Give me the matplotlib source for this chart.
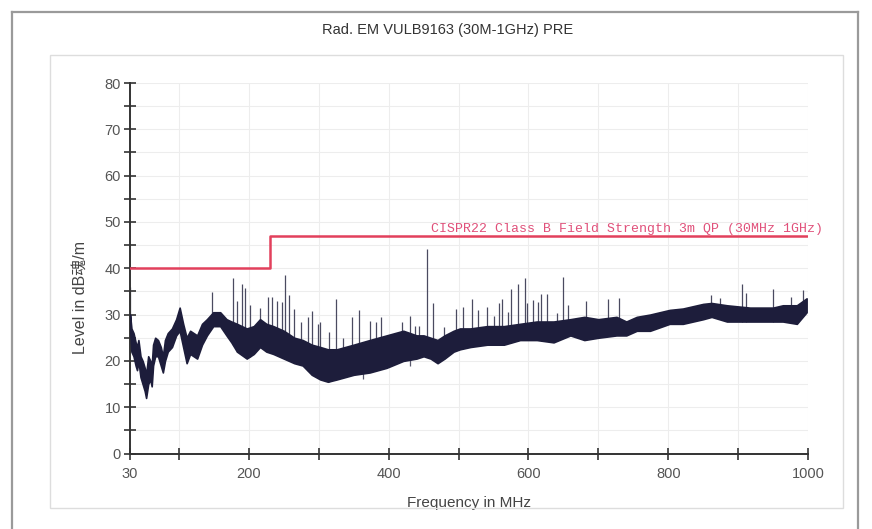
import matplotlib
matplotlib.use("Agg")
import matplotlib.pyplot as plt
import numpy as np
from matplotlib.lines import Line2D
from matplotlib.ticker import FixedLocator, MultipleLocator

plt.rcParams['font.family'] = ['Liberation Sans', 'Noto Sans CJK SC', 'DejaVu Sans']

# noise floor envelope (MHz, dB lower, dB upper)
band_freq = [30, 32, 35, 38, 40, 42, 45, 48, 51, 53, 56, 59, 61, 63, 66, 70, 74, 77,
             80, 84, 90, 96, 101, 106, 111, 116, 121, 126, 133, 140, 149, 159, 168,
             175, 183, 197, 207, 216, 225, 235, 250, 265, 277, 290, 302, 313, 326,
             338, 350, 373, 397, 421, 440, 450, 460, 470, 480, 493, 502, 517, 541,
             565, 588, 612, 636, 660, 680, 700, 726, 740, 755, 774, 802, 821, 850,
             862, 884, 917, 950, 964, 984, 998]
band_low = [27, 22, 21, 19, 18, 20, 16.5, 15, 13.5, 12, 15, 16, 14.5, 19, 21, 21, 19,
            17.5, 20, 22, 23, 25.5, 26.5, 23, 19.5, 21.5, 21, 20.5, 23.5, 25.5, 27.5,
            27.5, 25.5, 24, 22, 20.5, 21.5, 23, 22, 21.5, 20.5, 19.5, 19, 17, 16, 15.5,
            16, 16.5, 17, 17.5, 18.5, 20, 20.5, 21, 20.5, 19.5, 20.5, 22, 22.5, 23,
            23.5, 23.5, 24.5, 24.5, 24, 25.5, 24.5, 25, 25.5, 25.5, 26.5, 26.5, 28, 28,
            29, 29.5, 28.5, 28.5, 28.5, 28.5, 28, 30.5]
band_high = [30, 27, 26, 24, 23, 24.5, 21, 20, 18.5, 17, 21, 20, 19, 23.5, 25, 24.5,
             23, 21, 24.5, 26, 27, 29, 31.5, 28, 25, 26.5, 26, 25.5, 28, 29, 30.5, 30.5,
             29, 28.5, 28, 27, 27.5, 29, 28, 27.5, 26.5, 25, 24.5, 23.5, 23, 22.5, 22.5,
             23, 23.5, 24.5, 25.5, 26.5, 25.5, 25.5, 25, 24.5, 25.5, 26.5, 27, 27, 27.5,
             27.5, 28, 28.5, 28.5, 29, 29.5, 29, 29.5, 28.5, 29.5, 30, 31, 31.3, 32.3,
             32.5, 32, 31.5, 31.5, 32, 32, 33.5]

# narrow emissions above the floor (MHz, peak dB)
spike_freq = [30.5, 147, 177, 183, 190, 194.5, 201, 216, 227, 233, 240, 247, 252, 258,
              265, 274, 285, 291, 299, 302, 314, 324, 335, 347, 358, 373, 382, 389,
              419, 430, 438, 444, 455, 463, 479, 496, 506, 520, 528, 541, 551, 558,
              562, 571, 575, 585, 595, 598, 607, 614, 618, 627, 641, 650, 657, 683,
              714, 729, 861, 874, 905, 911, 950, 976, 993]
spike_peak = [36, 34.8, 38, 33, 36.5, 35.8, 32, 31.4, 33.8, 33.8, 33, 32.8, 38.6, 34.3,
              31.3, 28.4, 29.5, 30.8, 28, 28.3, 26.3, 33.3, 25, 29.5, 31, 28.6, 28.5,
              29.4, 28.4, 29.6, 27.5, 27.5, 44.2, 32.4, 27.3, 31.3, 31.6, 33.4, 30.9,
              31.6, 29.7, 32.4, 33.4, 30.6, 35.6, 36.7, 37.8, 32.4, 33.1, 32.8, 34.5,
              34.5, 30.3, 38.1, 32, 33, 33.4, 33.5, 34.2, 33.5, 36.5, 34.7, 35.5, 33.8,
              35.2]
# narrow drops below the floor (MHz, lowest dB)
dip_freq = [364, 430]
dip_level = [16.0, 19]

# limit line
limit_freq = [30, 230, 1000]
limit_level = [40, 47, 47]
limit_label = "CISPR22 Class B Field Strength 3m QP (30MHz 1GHz)"

xticks = [30, 100, 200, 300, 400, 500, 600, 700, 800, 900, 1000]
xticklabels = ["30", "", "200", "", "400", "", "600", "", "800", "", "1000"]

fig = plt.figure(figsize=(8.72, 5.29), dpi=100)
ax = fig.add_axes([0.1491, 0.1427, 0.7775, 0.7004])

navy = "#1d1d3b"
# spikes rise out of the band, so they start at its middle
spike_base = np.interp(spike_freq, band_freq, band_low)
ax.vlines(spike_freq, spike_base, spike_peak, color="#4a4a60", lw=0.9, zorder=2)
dip_top = np.interp(dip_freq, band_freq, band_high)
ax.vlines(dip_freq, dip_level, dip_top, color="#5a5a6e", lw=0.9, zorder=2)
ax.fill_between(band_freq, band_low, band_high, color=navy, lw=1.2, edgecolor=navy,
                zorder=3)
ax.step(limit_freq, limit_level, where="post", color="#e2405c", lw=1.8, zorder=4)
ax.text(1021, 47.15, limit_label, ha="right", va="bottom", color="#e0507a",
        fontsize=9.5, family="Liberation Mono", clip_on=False, zorder=5)

ax.set_xlim(30, 1000)
ax.set_ylim(0, 80)
ax.xaxis.set_major_locator(FixedLocator(xticks))
ax.set_xticklabels(xticklabels)
ax.yaxis.set_major_locator(MultipleLocator(10))
ax.yaxis.set_minor_locator(MultipleLocator(5))
ax.tick_params(which="both", direction="inout", length=9, width=1.2, color="#333333",
               labelsize=10.5, labelcolor="#555555")
ax.tick_params(axis="x", pad=5)
ax.tick_params(axis="y", pad=2)
ax.grid(which="both", color="#ededed", lw=0.8, zorder=0)
for side in ("top", "right"):
    ax.spines[side].set_visible(False)
for side in ("left", "bottom"):
    ax.spines[side].set_color("#333333")
    ax.spines[side].set_linewidth(1.4)

ax.set_xlabel("Frequency in MHz", fontsize=11, color="#444444")
ax.xaxis.set_label_coords(0.5, -0.115)
ax.set_ylabel("Level in dB魂/m", fontsize=11.5, color="#444444")
ax.yaxis.set_label_coords(-0.062, 0.42)

fig.text(0.513, 0.943, "Rad. EM VULB9163 (30M-1GHz) PRE", ha="center", va="center",
         fontsize=10.5, color="#333333")

# outer and inner frames
W, H = 872, 529
def fx(p):
    return p / W
def fy(p):
    return 1 - p / H
for xs, ys in [([12, 12], [12, H]), ([12, 858], [12, 12]), ([858, 858], [12, H])]:
    fig.add_artist(Line2D([fx(v) for v in xs], [fy(v) for v in ys], color="#9a9a9a", lw=1.6))
fig.add_artist(plt.Rectangle((fx(50), fy(508)), fx(843 - 50), (508 - 55) / H,
                             fill=False, ec="#dddddd", lw=1.0))

fig.savefig("out.png", dpi=100)
